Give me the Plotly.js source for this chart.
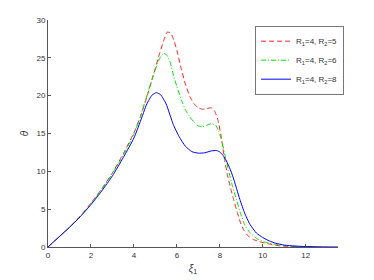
<!DOCTYPE html>
<html><head><meta charset="utf-8">
<script src="https://cdn.plot.ly/plotly-3.0.1.min.js"></script>
<style>html,body{margin:0;padding:0;background:#fff}#chart{width:374px;height:280px}</style>
</head><body><div id="chart"></div>
<script>
const seriesNames = ["R<sub>1</sub>=4, R<sub>2</sub>=5", "R<sub>1</sub>=4, R<sub>2</sub>=6", "R<sub>1</sub>=4, R<sub>2</sub>=8"];
const xRed = [0,0.5,1,1.5,2,2.5,3,3.5,4,4.3,4.6,4.9,5.2,5.4,5.55,5.7,5.85,6.0,6.2,6.4,6.6,6.8,7.0,7.2,7.4,7.6,7.75,7.9,8.05,8.2,8.35,8.5,8.65,8.8,8.95,9.1,9.3,9.55,9.85,10.2,10.8,11.5,12.5];
const yRed = [0,1.3,2.6,4.1,5.8,7.7,9.8,12.3,15.1,17.2,19.8,22.7,25.6,27.4,28.4,28.3,27.4,26.0,23.6,21.5,19.9,18.9,18.4,18.2,18.3,18.4,18.0,16.9,14.8,11.9,9.6,7.8,6.2,4.7,3.3,2.3,1.5,1.0,0.7,0.45,0.15,0.05,0];
const xGreen = [0,0.5,1,1.5,2,2.5,3,3.5,4,4.3,4.6,4.9,5.1,5.25,5.4,5.55,5.7,5.85,6.0,6.2,6.4,6.6,6.8,7.0,7.2,7.4,7.6,7.8,7.95,8.1,8.25,8.4,8.6,8.78,8.97,9.16,9.4,9.7,10.1,10.5,11.0,11.7,12.5];
const yGreen = [0,1.3,2.6,4.05,5.7,7.6,9.7,12.1,14.9,17.2,20.0,22.6,24.3,25.2,25.6,25.3,24.3,22.6,21.2,19.5,18.1,17.2,16.5,16.0,15.9,16.1,16.3,16.1,15.3,13.9,12.0,10.2,7.9,6.2,4.4,2.9,1.9,1.15,0.65,0.4,0.2,0.06,0];
const xBlue = [0,0.5,1,1.5,2,2.5,3,3.5,4,4.3,4.6,4.85,5.05,5.25,5.5,5.83,6.1,6.4,6.7,7.0,7.3,7.6,7.85,8.0,8.15,8.3,8.45,8.62,8.93,9.15,9.4,9.7,10.0,10.3,10.6,11.0,11.5,12.0,12.5,13.5];
const yBlue = [0,1.3,2.6,4.0,5.6,7.4,9.4,11.8,14.4,16.6,18.9,20.1,20.4,20.1,18.9,16.2,14.6,13.3,12.6,12.4,12.45,12.7,12.75,12.55,12.1,11.4,10.5,9.2,6.3,4.5,3.0,1.85,1.25,0.8,0.5,0.25,0.12,0.06,0.03,0];
const xTicks = [0,2,4,6,8,10,12];
const yTicks = [0,5,10,15,20,25,30];

const traces = [
  {x:xRed, y:yRed, name:seriesNames[0], mode:'lines', line:{color:'#ff2020', width:1, dash:'5px,3px', shape:'spline', smoothing:0.5}},
  {x:xGreen, y:yGreen, name:seriesNames[1], mode:'lines', line:{color:'#00e600', width:1, dash:'5px,2px,1px,2px', shape:'spline', smoothing:0.5}},
  {x:xBlue, y:yBlue, name:seriesNames[2], mode:'lines', line:{color:'#0000ff', width:1, shape:'spline', smoothing:0.5}}
];
const axisCommon = {showgrid:false, zeroline:false, showline:true, linecolor:'#555', linewidth:1,
  ticks:'inside', ticklen:3, tickcolor:'#555', tickfont:{family:'Liberation Sans, Arial, sans-serif', size:8, color:'#333'}};
const layout = {
  width:374, height:280, margin:{l:48, r:36, t:20, b:33},
  paper_bgcolor:'#fff', plot_bgcolor:'#fff', showlegend:true,
  font:{family:'Liberation Sans, Arial, sans-serif', size:8, color:'#333'},
  xaxis:Object.assign({}, axisCommon, {range:[0,13.5], tickvals:xTicks, ticktext:xTicks.map(String),
    title:{text:'<i>ξ</i><sub>1</sub>', font:{size:10, color:'#333'}, standoff:6}}),
  yaxis:Object.assign({}, axisCommon, {range:[0,30], tickvals:yTicks, ticktext:yTicks.map(String),
    title:{text:'<i>θ</i>', font:{size:10, color:'#333'}, standoff:5}}),
  legend:{x:0.714, y:0.975, xanchor:'left', yanchor:'top', bgcolor:'#fff', bordercolor:'#777', borderwidth:1,
    font:{size:8, color:'#333'}, itemwidth:30, tracegroupgap:0}
};
Plotly.newPlot('chart', traces, layout, {staticPlot:true, displayModeBar:false});
</script></body></html>
